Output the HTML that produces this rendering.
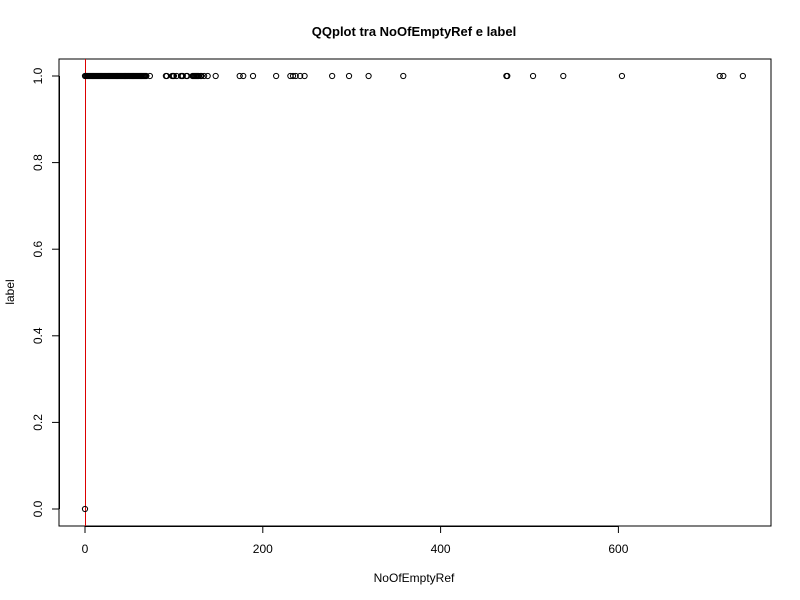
<!DOCTYPE html>
<html><head><meta charset="utf-8"><style>body{margin:0;background:#fff}svg{display:block;font-family:"Liberation Sans",sans-serif}</style></head>
<body>
<svg id="chart" width="800" height="600" viewBox="0 0 800 600">
<text x="414" y="36" text-anchor="middle" font-size="13" font-weight="bold">QQplot tra NoOfEmptyRef e label</text>
<rect x="59" y="59" width="712" height="467" fill="none" stroke="#000"/>
<g id="xaxis"></g>
<g id="yaxis"></g>
<line x1="85.5" y1="59" x2="85.5" y2="526" stroke="#d00" stroke-width="1"/>
<g id="points"></g>
<text x="414" y="582" text-anchor="middle" font-size="12">NoOfEmptyRef</text>
<text transform="translate(14,292) rotate(-90)" text-anchor="middle" font-size="12">label</text>
</svg>
<script>
const xTicks=[0,200,400,600];
const yTicks=[0.0,0.2,0.4,0.6,0.8,1.0];
const yTickLabels=["0.0","0.2","0.4","0.6","0.8","1.0"];
const zeroLabelX=[0];
const oneLabelX=[0,1,2,3,4,5,6,7,8,9,10,11,12,13,14,15,16,17,18,19,20,21,22,23,24,25,26,27,28,29,30,31,32,33,34,35,36,37,38,39,40,41,42,43,44,45,46,47,48,49,50,51,52,53,54,55,56,57,58,59,60,61,62,63,64,65,66,67,68,69,73,91,92,98,99,100,103,108,109,110,114,115,121,122,123,124,125,126,127,128,130,131,134,138,147,174,178,189,215,231,234,237,242,247,278,297,319,358,474,475,504,538,604,714,718,740];
const sx=v=>85+v*0.889;
const sy=v=>509-v*433;
const NS="http://www.w3.org/2000/svg";
function mk(t,a,p){const e=document.createElementNS(NS,t);for(const k in a)e.setAttribute(k,a[k]);p.appendChild(e);return e;}
const xa=document.getElementById('xaxis'),ya=document.getElementById('yaxis'),pg=document.getElementById('points');
mk('line',{x1:sx(0),x2:sx(600),y1:526.5,y2:526.5,stroke:'#000'},xa);
xTicks.forEach(v=>{
 const l=mk('line',{x1:sx(v),x2:sx(v),y1:526,y2:533,stroke:'#000'},xa);
 
 
 const t=mk('text',{x:sx(v),y:553,'text-anchor':'middle','font-size':12},xa);t.textContent=v;
 
 
});
mk('line',{x1:59.5,x2:59.5,y1:sy(0),y2:sy(1),stroke:'#000'},ya);
yTicks.forEach((v,i)=>{
 const l=mk('line',{x1:52,x2:59,y1:sy(v),y2:sy(v),stroke:'#000'},ya);
 
 
 const t=mk('text',{transform:`translate(42,${sy(v)}) rotate(-90)`,'text-anchor':'middle','font-size':12},ya);t.textContent=yTickLabels[i];
 
 
});
function pt(x,y){const c=mk('circle',{cx:sx(x),cy:sy(y),r:2.6,fill:'none',stroke:'#000','stroke-width':1},pg);
 
 }
zeroLabelX.forEach(x=>pt(x,0));
oneLabelX.forEach(x=>pt(x,1));
</script>
</body></html>
